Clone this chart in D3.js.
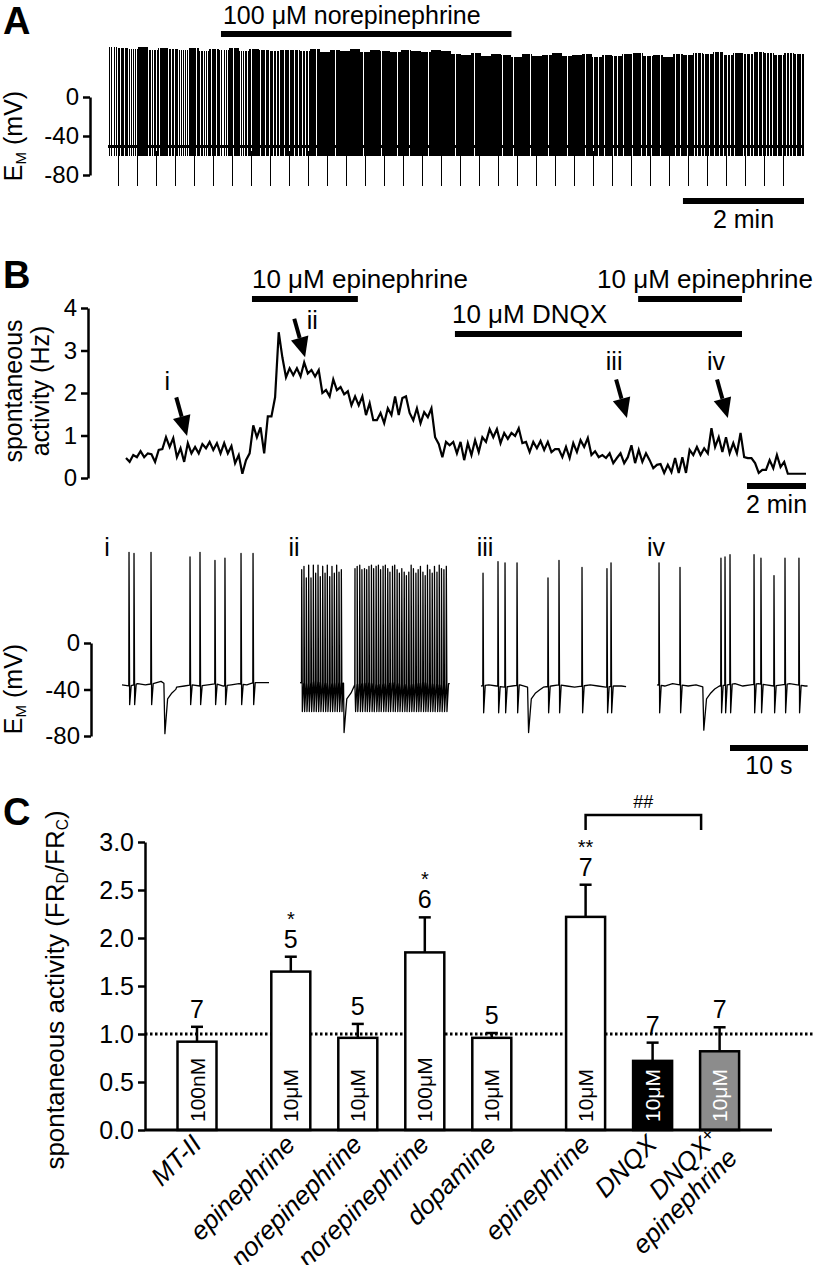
<!DOCTYPE html>
<html lang="en">
<head>
<meta charset="UTF-8">
<title>Catecholamines and spontaneous activity</title>
<style>
  body { margin: 0; background: #fff; }
  svg text { font-family: "Liberation Sans", Arial, Helvetica, sans-serif; fill: #000; }
</style>
</head>
<body>
<div id="fig"></div>
<script src="https://cdn.jsdelivr.net/npm/d3@7"></script>
<script>
// ---------------- panel A : whole-cell recording, 100 uM norepinephrine ----------------
const aBinSec = 10;       // s per rate bin
const aDuration = 690;    // s
// firing rate (Hz) per 10 s bin, read off the density of the trace
const aRate = [0.4, 0.8, 0.5, 1.0, 0.6, 0.9, 0.7, 0.5, 0.9, 0.6,
               0.8, 0.5, 0.9, 0.6, 0.9, 0.8, 0.7, 0.8, 0.8, 0.7,
               0.9, 1.0, 0.9, 1.0, 1.0, 0.9, 1.0, 0.9, 1.0, 0.9,
               1.0, 0.9, 1.0, 1.0, 0.9, 1.0, 0.9, 1.0, 1.0, 0.9,
               1.0, 0.9, 1.0, 0.9, 1.0, 0.9, 1.0, 0.9, 0.8, 0.9,
               0.8, 0.9, 0.9, 0.8, 0.9, 1.0, 0.8, 0.9, 0.7, 0.8,
               0.8, 0.7, 0.9, 0.7, 0.8, 0.7, 0.8, 0.7, 0.8];
// spike peak (mV) per bin
const aPeak = [51, 50, 49, 51, 48, 50, 49, 48, 50, 47, 49, 48, 50, 47, 49, 48, 47, 48,
               48, 47, 49, 46, 48, 47, 49, 46, 48, 47, 46, 48, 47, 46, 48, 47,
               44, 43, 45, 42, 44, 43, 41, 44, 42, 43, 45, 42, 43, 44, 41, 43, 42, 44, 45, 42, 43, 41, 44, 43,
               45, 44, 46, 43, 45, 44, 46, 45, 43, 45, 44];
// hyperpolarising test pulses (s)
const aPulses = [10.2, 29.0, 47.9, 66.7, 85.6, 104.4, 123.2, 142.1, 160.9, 179.8, 198.6, 217.4,
                 236.3, 255.1, 274.0, 292.8, 311.6, 330.5, 349.3, 368.2, 387.0, 405.8, 424.7, 443.5,
                 462.4, 481.2, 500.0, 518.9, 537.7, 556.6, 575.4, 594.2, 613.1, 631.9, 650.8, 669.6];
const aTicks = [0, -40, -80];
const aDrugLabel = "100 μM norepinephrine";
const aDrugStart = 112, aDrugEnd = 400;   // s

// ---------------- panel B : rate histogram ----------------
const bMinutes = 23.05;
const bRate = [0.47,0.38,0.54,0.49,0.63,0.49,0.58,0.56,0.38,0.66,
  0.68,0.96,0.73,0.94,0.49,0.70,0.38,0.82,0.58,0.73,
  0.58,0.80,0.70,0.85,0.66,0.82,0.58,0.82,0.58,0.75,
  0.35,0.54,0.10,0.42,0.58,1.24,0.96,1.19,0.58,1.45,
  1.45,1.90,3.43,2.84,2.37,2.58,2.42,2.58,2.39,2.72,
  2.46,2.54,2.39,2.54,2.00,2.07,1.92,2.32,2.07,2.14,
  1.97,2.04,1.71,1.92,1.71,1.92,1.48,1.76,1.36,1.36,
  1.53,1.29,1.64,1.48,1.92,1.48,1.88,1.92,1.53,1.36,
  1.64,1.29,1.55,1.43,1.64,0.96,0.80,0.49,
  0.85,0.77,0.85,0.58,0.85,0.42,0.82,0.54,0.89,0.61,
  0.96,0.85,1.15,0.96,1.15,0.82,1.06,0.92,1.06,0.99,
  1.17,0.82,0.85,0.61,0.85,0.70,0.87,0.66,0.85,0.61,
  0.68,0.68,0.49,0.73,0.47,0.82,0.61,0.89,0.73,0.94,
  0.54,0.63,0.49,0.54,0.47,0.58,0.35,0.47,0.58,0.35,
  0.49,0.77,0.35,0.66,0.38,0.58,0.42,0.23,0.31,0.33,
  0.12,0.31,0.14,0.47,0.12,0.49,0.12,0.66,0.54,0.73,
  0.54,0.70,0.58,1.17,0.73,0.96,0.61,0.96,0.58,0.82,
  0.58,1.06,0.49,0.47,0.47,0.35,0.12,0.19,0.19,0.42,
  0.23,0.54,0.26,0.38,0.10,0.10,0.10,0.10,0.10,0.10];
const bTicks = [0, 1, 2, 3, 4];
const bDrugLabels = ["10 μM epinephrine", "10 μM DNQX", "10 μM epinephrine"];
const bDrugStart = [4.27, 11.15, 17.36];   // min
const bDrugEnd = [7.86, 20.88, 20.88];
const bArrowLabels = ["i", "ii", "iii", "iv"];
const bArrowT = [2.07, 6.07, 16.98, 20.4]; // min
const bArrowV = [0.99, 2.84, 1.41, 1.41];  // Hz

// ---------------- panel B : example traces i-iv ----------------
const trLabels = ["i", "ii", "iii", "iv"];
const trDur = [18.85, 19.2, 18.6, 19.3];     // s
const trTrough = [-53, -59, -60, -60];       // spike AHP, mV
const trDipT = [5.4, 5.55, 6.0, 5.9];        // test pulse, s
const trDipV = [-78, -77, -77, -75];
const iSpikes = [0.9, 1.54, 3.72, 8.72, 10.0, 11.92, 13.2, 15.26, 16.8];
const iPeaks = [78, 77, 78, 74, 78, 71, 73, 77, 77];
const iBase = [-36, -37, -35, -36, -35, -33, -37, -38, -37, -36, -37, -36, -35, -37, -36, -35, -36, -34, -34, -34];
const iiSpikes = [0.22, 0.51, 0.81, 1.11, 1.41, 1.71, 2.01, 2.31, 2.60, 2.91, 3.21, 3.50, 3.81, 4.10, 4.40, 4.70, 5.00, 5.30,
  7.05, 7.33, 7.66, 7.94, 8.27, 8.55, 8.84, 9.16, 9.44, 9.76, 10.05, 10.33, 10.65, 10.94, 11.25, 11.53, 11.86, 12.14,
  12.45, 12.74, 13.05, 13.36, 13.64, 13.95, 14.25, 14.54, 14.86, 15.15, 15.44, 15.76, 16.05, 16.34, 16.65, 16.95,
  17.24, 17.56, 17.85, 18.14, 18.45, 18.76];
const iiPeaks = [63, 66, 56, 67, 56, 67, 60, 67, 57, 66, 60, 67, 57, 66, 60, 67, 61, 63,
  64, 66, 67, 63, 64, 63, 66, 67, 64, 66, 67, 63, 66, 67, 64, 61, 66, 67, 63, 60, 64, 61,
  58, 61, 67, 64, 60, 63, 66, 61, 58, 67, 63, 60, 66, 61, 67, 64, 63, 66];
const iiBase = [-34, -35, -33, -34, -35, -34, -35, -36, -35, -34, -36, -35, -34, -35, -36, -35, -34, -35, -36, -35];
const iiiSpikes = [0.26, 2.18, 3.08, 4.62, 8.59, 10.0, 12.95, 16.15, 16.67];
const iiiPeaks = [60, 70, 69, 69, 56, 71, 65, 64, 69];
const iiiBase = [-37, -36, -37, -38, -37, -36, -38, -39, -38, -37, -36, -37, -38, -37, -36, -37, -38, -37, -37, -38];
const ivSpikes = [0.26, 2.95, 8.2, 8.72, 9.36, 12.44, 13.33, 15.0, 16.41, 18.2];
const ivPeaks = [69, 65, 73, 74, 76, 76, 73, 58, 73, 73];
const ivBase = [-36, -37, -35, -36, -37, -36, -38, -38, -37, -36, -35, -37, -36, -35, -36, -37, -36, -35, -36, -37];
const trTicks = [0, -40, -80];

// ---------------- panel C : summary ----------------
const cDrugs = ["MT-II", "epinephrine", "norepinephrine", "norepinephrine", "dopamine", "epinephrine", "DNQX", "DNQX+epinephrine"];
const cDose = ["100nM", "10μM", "10μM", "100μM", "10μM", "10μM", "10μM", "10μM"];
const cMean = [0.92, 1.65, 0.96, 1.85, 0.96, 2.22, 0.72, 0.82];
const cSem = [0.155, 0.155, 0.145, 0.365, 0.05, 0.335, 0.19, 0.25];
const cN = [7, 5, 5, 6, 5, 7, 7, 7];
const cSig = ["", "*", "", "*", "", "**", "", ""];
const cGroup = [0, 1, 1, 1, 1, 2, 2, 2];
const cTicks = [0, 0.5, 1.0, 1.5, 2.0, 2.5, 3.0];

// ---------------- drawing ----------------
const svg = d3.select("#fig").append("svg")
    .attr("width", 815)
    .attr("height", 1265);

const FS = 25;

function panelLetter(t, x, y) {
    svg.append("text").attr("x", x).attr("y", y)
        .attr("font-size", 38).attr("font-weight", "bold").text(t);
}

function hbar(x1, x2, y, h) {
    svg.append("rect").attr("x", x1).attr("y", y - h / 2)
        .attr("width", x2 - x1).attr("height", h).attr("fill", "#000");
}

// rotated axis title; parts = [[text, isSub], ...]
function yTitle(x, y, parts, size) {
    const t = svg.append("text")
        .attr("transform", `translate(${x},${y}) rotate(-90)`)
        .attr("text-anchor", "middle")
        .attr("font-size", size);
    let shifted = false;
    parts.forEach(p => {
        const s = t.append("tspan").text(p[0]);
        if (p[1]) { s.attr("font-size", size * 0.6).attr("dy", 4); shifted = true; }
        else if (shifted) { s.attr("dy", -4); shifted = false; }
    });
}

function styleAxis(g, size) {
    g.select(".domain").attr("stroke-width", 2.5);
    g.selectAll(".tick line").attr("stroke-width", 2.5);
    g.selectAll(".tick text").attr("font-size", size).attr("font-family", null);
}

// ===== A =====
panelLetter("A", 3, 34);
const xA = d3.scaleLinear().domain([0, aDuration]).range([108, 804]);
const yA = d3.scaleLinear().domain([-80, 0]).range([175, 97]);

svg.append("text").attr("x", xA(aDrugStart) + 2).attr("y", 24)
    .attr("font-size", 25).text(aDrugLabel);
hbar(xA(aDrugStart), xA(aDrugEnd), 34, 6);

const axA = svg.append("g").attr("transform", "translate(90,0)")
    .call(d3.axisLeft(yA).tickValues(aTicks).tickSize(7).tickSizeOuter(0).tickPadding(4)
        .tickFormat(d => String(d)));
styleAxis(axA, 24);
yTitle(22, 136, [["E", false], ["M", true], [" (mV)", false]], FS);

const aSpikes = [];
aRate.forEach((r, k) => {
    const n = Math.round(r * aBinSec);
    for (let j = 0; j < n; j++) {
        aSpikes.push({ t: k * aBinSec + (j + 0.5) * aBinSec / n, peak: aPeak[k] });
    }
});

const gA = svg.append("g").attr("shape-rendering", "crispEdges");
gA.append("line")
    .attr("x1", xA(0)).attr("x2", xA(aDuration))
    .attr("y1", yA(-51)).attr("y2", yA(-51))
    .attr("stroke", "#000").attr("stroke-width", 3);
gA.selectAll(".sp").data(aSpikes).enter().append("line")
    .attr("class", "sp")
    .attr("x1", d => Math.floor(xA(d.t)) + 0.5).attr("x2", d => Math.floor(xA(d.t)) + 0.5)
    .attr("y1", yA(-60)).attr("y2", d => yA(d.peak))
    .attr("stroke", "#000").attr("stroke-width", 1);
gA.selectAll(".pulse").data(aPulses).enter().append("line")
    .attr("class", "pulse")
    .attr("x1", d => Math.floor(xA(d)) + 0.5).attr("x2", d => Math.floor(xA(d)) + 0.5)
    .attr("y1", yA(-55)).attr("y2", yA(-91))
    .attr("stroke", "#000").attr("stroke-width", 1.5);

hbar(xA(aDuration - 120), xA(aDuration), 201, 6);
svg.append("text").attr("x", (xA(aDuration - 120) + xA(aDuration)) / 2).attr("y", 228)
    .attr("text-anchor", "middle").attr("font-size", FS).text("2 min");

// ===== B rate =====
panelLetter("B", 3, 288);
const xB = d3.scaleLinear().domain([0, bMinutes]).range([126, 806]);
const yB = d3.scaleLinear().domain([0, 4]).range([478, 308]);
const bStep = bMinutes / (bRate.length - 1);

const bBarY = [299, 334, 299];
const bTextY = [288, 323, 288];
bDrugLabels.forEach((lab, i) => {
    hbar(xB(bDrugStart[i]), xB(bDrugEnd[i]), bBarY[i], 6);
    const t = svg.append("text").attr("y", bTextY[i]).attr("font-size", 26).text(lab);
    if (i === 2) t.attr("x", 813).attr("text-anchor", "end");
    else t.attr("x", xB(bDrugStart[i]) - (i === 1 ? 3 : 0));
});

const axB = svg.append("g").attr("transform", "translate(88,0)")
    .call(d3.axisLeft(yB).tickValues(bTicks).tickSize(7).tickSizeOuter(0).tickPadding(4)
        .tickFormat(d3.format("d")));
styleAxis(axB, 24);
svg.append("text").attr("transform", "translate(22,391) rotate(-90)")
    .attr("text-anchor", "middle").attr("font-size", FS).text("spontaneous");
svg.append("text").attr("transform", "translate(49,391) rotate(-90)")
    .attr("text-anchor", "middle").attr("font-size", FS).text("activity (Hz)");

svg.append("path").datum(bRate)
    .attr("d", d3.line().x((d, i) => xB(i * bStep)).y(d => yB(d)))
    .attr("fill", "none").attr("stroke", "#000").attr("stroke-width", 2.2)
    .attr("stroke-linejoin", "miter");

// arrows pointing at i-iv
const arrowLabelDx = [-9, 18, -2, -1];
const arrowLabelDy = [-7, 10, -10, -10];
bArrowT.forEach((t, k) => {
    const tx = xB(t), ty = yB(bArrowV[k]);
    const ux = 0.27, uy = 0.963;          // arrow direction (down-right)
    const sx = tx - 40 * ux, sy = ty - 40 * uy;
    const bx = tx - 20 * ux, by = ty - 20 * uy;
    svg.append("line").attr("x1", sx).attr("y1", sy).attr("x2", bx).attr("y2", by)
        .attr("stroke", "#000").attr("stroke-width", 4);
    svg.append("path")
        .attr("d", `M${tx},${ty}L${bx - 9 * uy},${by + 9 * ux}L${bx + 9 * uy},${by - 9 * ux}Z`)
        .attr("fill", "#000");
    svg.append("text").attr("x", sx + arrowLabelDx[k]).attr("y", sy + arrowLabelDy[k])
        .attr("text-anchor", "middle").attr("font-size", FS).text(bArrowLabels[k]);
});

hbar(xB(bMinutes - 2), xB(bMinutes), 486, 6);
svg.append("text").attr("x", (xB(bMinutes - 2) + xB(bMinutes)) / 2).attr("y", 513)
    .attr("text-anchor", "middle").attr("font-size", FS).text("2 min");

// ===== B traces =====
const yT = d3.scaleLinear().domain([-80, 0]).range([736, 643]);
const trX0 = [122, 300, 481, 657];
const trLabelX = [107, 294, 485, 656];
const pxPerSec = 7.8;
const trSpikes = [iSpikes, iiSpikes, iiiSpikes, ivSpikes];
const trPeaks = [iPeaks, iiPeaks, iiiPeaks, ivPeaks];
const trBase = [iBase, iiBase, iiiBase, ivBase];

function tracePoints(k) {
    const base = trBase[k];
    const baseAt = t => {
        const i = Math.max(0, Math.min(base.length - 2, Math.floor(t)));
        const f = Math.max(0, Math.min(1, t - i));
        return base[i] + (base[i + 1] - base[i]) * f;
    };
    const pts = [], win = [];
    trSpikes[k].forEach((t, j) => {
        pts.push([t - 0.03, baseAt(t)], [t, trPeaks[k][j]], [t + 0.08, trTrough[k]], [t + 0.28, baseAt(t + 0.28)]);
        win.push([t - 0.03, t + 0.28]);
    });
    const d = trDipT[k];
    pts.push([d - 0.03, baseAt(d)], [d + 0.1, trDipV[k]], [d + 0.45, -48], [d + 1.0, -43], [d + 1.5, baseAt(d + 1.5) - 2]);
    win.push([d - 0.03, d + 1.5]);
    for (let t = 0; t <= trDur[k]; t += 1) {
        if (!win.some(w => t >= w[0] && t <= w[1])) pts.push([t, baseAt(t)]);
    }
    pts.push([trDur[k], baseAt(trDur[k])]);
    return pts.filter(p => p[0] >= 0 && p[0] <= trDur[k]).sort((a, b) => a[0] - b[0]);
}

trLabels.forEach((lab, k) => {
    const xT = d3.scaleLinear().domain([0, 1]).range([trX0[k], trX0[k] + pxPerSec]);
    svg.append("path").datum(tracePoints(k))
        .attr("d", d3.line().x(p => xT(p[0])).y(p => yT(p[1])))
        .attr("fill", "none").attr("stroke", "#000").attr("stroke-width", 1.3)
        .attr("stroke-linejoin", "round");
    svg.append("text").attr("x", trLabelX[k]).attr("y", 556)
        .attr("text-anchor", "middle").attr("font-size", FS).text(lab);
});

const axT = svg.append("g").attr("transform", "translate(91,0)")
    .call(d3.axisLeft(yT).tickValues(trTicks).tickSize(7).tickSizeOuter(0).tickPadding(4)
        .tickFormat(d => String(d)));
styleAxis(axT, 24);
yTitle(22, 689, [["E", false], ["M", true], [" (mV)", false]], FS);

hbar(808 - 10 * pxPerSec, 808, 748, 6);
svg.append("text").attr("x", 808 - 5 * pxPerSec).attr("y", 774)
    .attr("text-anchor", "middle").attr("font-size", FS).text("10 s");

// ===== C =====
panelLetter("C", 3, 825);
const yC = d3.scaleLinear().domain([0, 3]).range([1130, 842]);
const xC = d3.scaleLinear().domain([0, 1]).range([197, 264]);
const cx = i => xC(i + cGroup[i] * 0.4);
const barW = 39;
const cFill = ["#fff", "#fff", "#fff", "#fff", "#fff", "#fff", "#000", "#8c8c8c"];
const cText = ["#000", "#000", "#000", "#000", "#000", "#000", "#fff", "#fff"];

svg.append("line").attr("x1", 145).attr("x2", 815)
    .attr("y1", yC(1)).attr("y2", yC(1))
    .attr("stroke", "#000").attr("stroke-width", 3).attr("stroke-dasharray", "2.5,2.5");

const gC = svg.append("g");
cMean.forEach((m, i) => {
    const x = cx(i);
    gC.append("rect").attr("x", x - barW / 2).attr("y", yC(m))
        .attr("width", barW).attr("height", yC(0) - yC(m))
        .attr("fill", cFill[i]).attr("stroke", "#000").attr("stroke-width", 2.5);
    const top = yC(m + cSem[i]);
    gC.append("line").attr("x1", x).attr("x2", x).attr("y1", yC(m)).attr("y2", top)
        .attr("stroke", "#000").attr("stroke-width", 2.5);
    gC.append("line").attr("x1", x - 6).attr("x2", x + 6).attr("y1", top).attr("y2", top)
        .attr("stroke", "#000").attr("stroke-width", 2.5);
    gC.append("text").attr("x", x).attr("y", top - 9)
        .attr("text-anchor", "middle").attr("font-size", FS).text(cN[i]);
    if (cSig[i]) {
        gC.append("text").attr("x", x).attr("y", top - 31)
            .attr("text-anchor", "middle").attr("font-size", 20).text(cSig[i]);
    }
    gC.append("text")
        .attr("transform", `translate(${x + 7.5},1122) rotate(-90)`)
        .attr("font-size", 21).style("fill", cText[i]).text(cDose[i]);
    // category label
    const lab = gC.append("text")
        .attr("transform", `translate(${x + 6},1146) rotate(-45)`)
        .attr("text-anchor", "end").attr("font-size", 26).attr("font-style", "italic");
    if (cDrugs[i].includes("+")) {
        const parts = cDrugs[i].split("+");
        const l1 = lab.append("tspan").attr("x", 0).attr("dy", "-0.3em").text(parts[0]);
        l1.append("tspan").attr("font-size", 18).attr("dy", -7).text("+");
        lab.append("tspan").attr("x", 0).attr("dy", "1.3em").text(parts[1]);
    } else {
        lab.text(cDrugs[i]);
    }
});

svg.append("line").attr("x1", 145).attr("x2", 772).attr("y1", yC(0)).attr("y2", yC(0))
    .attr("stroke", "#000").attr("stroke-width", 3);
const axC = svg.append("g").attr("transform", "translate(145,0)")
    .call(d3.axisLeft(yC).tickValues(cTicks).tickSize(7).tickSizeOuter(0).tickPadding(4)
        .tickFormat(d3.format(".1f")));
styleAxis(axC, 25);
yTitle(64, 990, [["spontaneous activity (FR", false], ["D", true], ["/FR", false], ["C", true], [")", false]], 26);

// significance bracket epinephrine vs DNQX+epinephrine
const bl = cx(5), br = cx(7) - barW / 2 + 1;
svg.append("path").attr("d", `M${bl},830V815H${br}V830`)
    .attr("fill", "none").attr("stroke", "#000").attr("stroke-width", 2.5);
svg.append("text").attr("x", (bl + br) / 2).attr("y", 808)
    .attr("text-anchor", "middle").attr("font-size", 18).text("##");
</script>
</body>
</html>
